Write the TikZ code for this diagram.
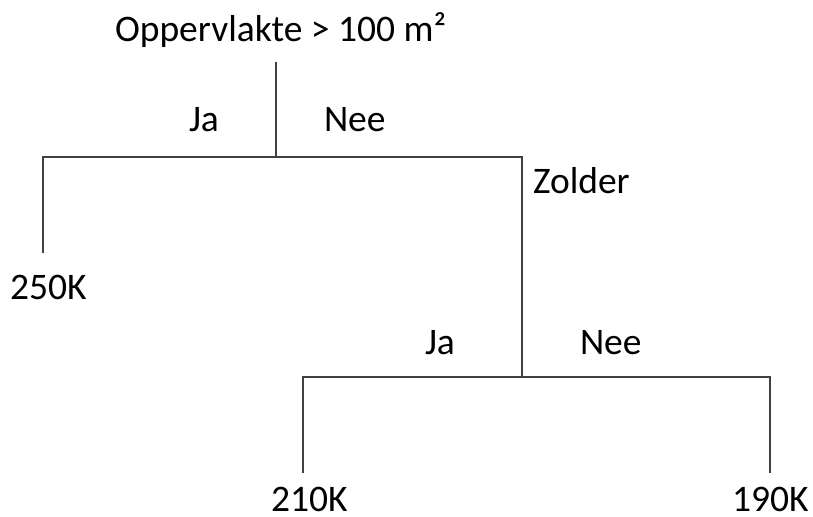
\documentclass[tikz,border=0pt]{standalone}
\usepackage{fontspec}
\setmainfont{Carlito}
\begin{document}
\begin{tikzpicture}[x=1bp,y=-1bp,
  lbl/.style={anchor=base west,inner sep=0pt,outer sep=0pt,text=black,font=\fontsize{37.5bp}{45bp}\selectfont},
  wire/.style={draw=black!75,line width=1.5bp}]
\useasboundingbox (0,0) rectangle (813,517);
% labels
\node[lbl] (title) at (115,42) {Oppervlakte > 100 m²};
\node[lbl] (ja1) at (189,132) {Ja};
\node[lbl] (nee1) at (324,132) {Nee};
\node[lbl] (zolder) at (533,194) {Zolder};
\node[lbl] (k250) at (10,300) {250K};
\node[lbl] (ja2) at (425,354) {Ja};
\node[lbl] (nee2) at (580,354) {Nee};
\node[lbl] (k210) at (271,511) {210K};
\node[lbl] (k190) at (732,511) {190K};
% junctions
\coordinate (top) at (276,62);
\coordinate (s1) at (276,157);
\coordinate (l1) at (43,157);
\coordinate (l1e) at (43,253);
\coordinate (r1) at (522,157);
\coordinate (s2) at (522,377);
\coordinate (l2) at (303,377);
\coordinate (l2e) at (303,473);
\coordinate (r2) at (770,377);
\coordinate (r2e) at (770,473);
% connectors
\draw[wire] (top) -- (s1);
\draw[wire] (l1e) -- (l1) -- (r1) -- (s2);
\draw[wire] (l2e) -- (l2) -- (r2) -- (r2e);
\end{tikzpicture}
\end{document}
